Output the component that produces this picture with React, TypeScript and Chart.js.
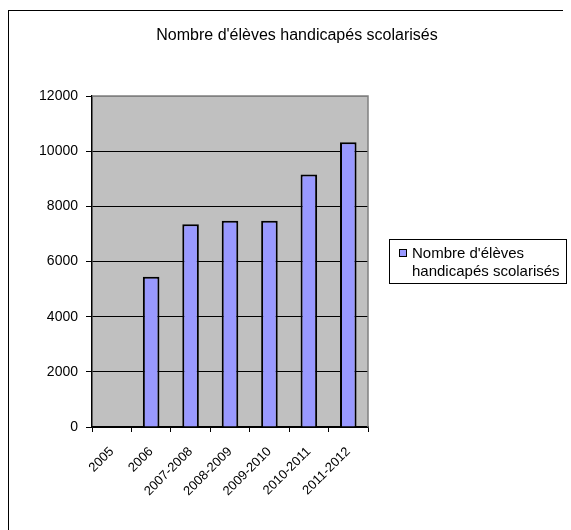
import React, { useEffect, useRef } from "react";
import { Chart, registerables } from "chart.js";

Chart.register(...registerables);

const titleText = "Nombre d'élèves handicapés scolarisés";
const seriesName = "Nombre d'élèves handicapés scolarisés";
const categories = ["2005", "2006", "2007-2008", "2008-2009", "2009-2010", "2010-2011", "2011-2012"];
const values: (number | null)[] = [null, 5450, 7350, 7480, 7480, 9150, 10320];
const yMin = 0;
const yMax = 12000;
const yStep = 2000;

const FONT = "'Liberation Sans', Arial, sans-serif";

export default function App() {
  const ref = useRef<HTMLCanvasElement | null>(null);

  useEffect(() => {
    if (!ref.current) return;
    const plotBg = {
      id: "plotBg",
      beforeDraw(chart: any) {
        const { ctx, chartArea: a } = chart;
        ctx.save();
        ctx.fillStyle = "#C0C0C0";
        ctx.fillRect(a.left, a.top, a.right - a.left, a.bottom - a.top);
        ctx.restore();
      },
      afterDraw(chart: any) {
        const { ctx, chartArea: a } = chart;
        ctx.save();
        ctx.strokeStyle = "#808080";
        ctx.lineWidth = 1.5;
        ctx.beginPath();
        ctx.moveTo(a.left, a.top);
        ctx.lineTo(a.right, a.top);
        ctx.lineTo(a.right, a.bottom);
        ctx.stroke();
        ctx.restore();
      },
    };
    const chart = new Chart(ref.current, {
      type: "bar",
      data: {
        labels: categories,
        datasets: [
          {
            label: seriesName,
            data: values,
            backgroundColor: "#9999FF",
            borderColor: "#000000",
            borderWidth: 2,
            barPercentage: 0.42,
            categoryPercentage: 1,
          },
        ],
      },
      options: {
        responsive: false,
        animation: false,
        devicePixelRatio: 1,
        layout: { padding: { left: 0, top: 96, right: 203, bottom: 0 } },
        plugins: {
          legend: { display: false },
          title: { display: false },
          tooltip: { enabled: false },
        },
        scales: {
          x: {
            afterFit(scale: any) {
              scale.height = 103;
            },
            grid: {
              offset: true,
              drawOnChartArea: false,
              drawTicks: true,
              tickLength: 5,
              color: "#000000",
            },
            border: { color: "#000000", width: 1.5 },
            ticks: {
              color: "#000000",
              font: { family: FONT, size: 13 },
              minRotation: 45,
              maxRotation: 45,
              autoSkip: false,
              padding: 12,
            },
          },
          y: {
            min: yMin,
            max: yMax,
            afterFit(scale: any) {
              scale.width = 92;
            },
            grid: {
              color: (c: any) => (c.tick && c.tick.value === yMax ? "#808080" : "#000000"),
              tickColor: "#000000",
              lineWidth: 1,
              tickLength: 6,
            },
            border: { color: "#000000", width: 1.5 },
            ticks: {
              stepSize: yStep,
              color: "#000000",
              font: { family: FONT, size: 14 },
              padding: 8,
              callback: (v: any) => String(v),
            },
          },
        },
      },
      plugins: [plotBg],
    });
    return () => chart.destroy();
  }, []);

  return (
    <div style={{ position: "fixed", left: 0, top: 0, width: 571, height: 530, overflow: "hidden", background: "#fff", fontFamily: FONT }}>
      <canvas ref={ref} width={571} height={530} style={{ position: "absolute", left: 0, top: 0, width: 571, height: 530 }} />
      <div style={{ position: "absolute", left: 8, top: 10, width: 555, height: 530, borderTop: "1.5px solid #000", borderLeft: "1.5px solid #000", boxSizing: "border-box", pointerEvents: "none" }} />
      <div style={{ position: "absolute", left: 0, width: 594, top: 27, textAlign: "center", fontSize: 16, lineHeight: "16px", color: "#000", whiteSpace: "nowrap" }}>
        {titleText}
      </div>
      <div style={{ position: "absolute", left: 389, top: 239, width: 178, height: 45, border: "1px solid #000", boxSizing: "border-box", background: "#fff" }}>
        <div style={{ position: "absolute", left: 9, top: 9, width: 6, height: 6, border: "1px solid #000", background: "#9999FF" }} />
        <div style={{ position: "absolute", left: 22, top: 4, fontSize: 15, lineHeight: "18px", color: "#000", whiteSpace: "nowrap" }}>
          Nombre d'élèves
          <br />
          handicapés scolarisés
        </div>
      </div>
    </div>
  );
}
